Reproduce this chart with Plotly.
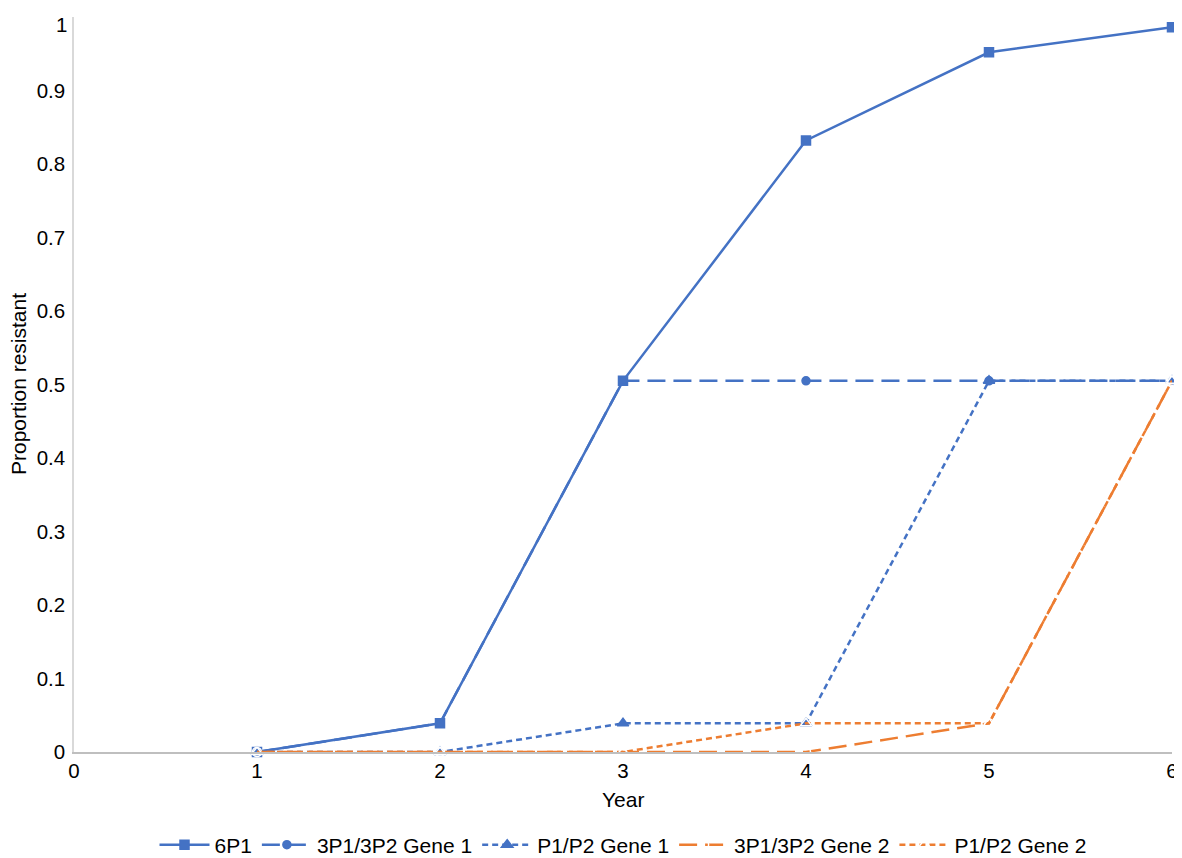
import plotly.graph_objects as go

years = [1, 2, 3, 4, 5, 6]
s_6p1 = [0, 0.039, 0.505, 0.832, 0.952, 0.986]
s_3p_g1 = [0, 0.039, 0.505, 0.505, 0.505, 0.505]
s_p_g1 = [0, 0, 0.039, 0.039, 0.505, 0.505]
s_3p_g2 = [0, 0, 0, 0, 0.039, 0.505]
s_p_g2 = [0, 0, 0, 0.039, 0.039, 0.505]

x_ticks = [0, 1, 2, 3, 4, 5, 6]
y_ticks = [0, 0.1, 0.2, 0.3, 0.4, 0.5, 0.6, 0.7, 0.8, 0.9]
y_labels = ["0", "0.1", "0.2", "0.3", "0.4", "0.5", "0.6", "0.7", "0.8", "0.9"]
y_top_label = "1"

BLUE = "#4472C4"
ORANGE = "#ED7D31"

series = [
    ("6P1", s_6p1, BLUE, "solid", "square", BLUE, 9),
    ("3P1/3P2 Gene 1", s_3p_g1, BLUE, "18px,8px", "circle", BLUE, 8),
    ("P1/P2 Gene 1", s_p_g1, BLUE, "6px,4px", "triangle-up", BLUE, 10),
    ("3P1/3P2 Gene 2", s_3p_g2, ORANGE, "18px,8px", "circle-open", ORANGE, 9),
    ("P1/P2 Gene 2", s_p_g2, ORANGE, "6px,4px", "triangle-up-open", ORANGE, 10),
]

FS = 21
TFS = 20.5

fig = go.Figure()
for name, ys, col, dash, sym, mcol, msize in series:
    fig.add_trace(go.Scatter(
        x=years, y=ys, name=name, mode="lines+markers", cliponaxis=False,
        line=dict(color=col, width=2.5, dash=dash),
        marker=dict(symbol=sym, size=msize, color=mcol if "open" not in sym else "white",
                    line=dict(color=mcol, width=1.5)),
    ))

# page body has an 8px margin, so the figure is shrunk and margins adjusted
fig.update_layout(
    width=1174, height=850,
    margin=dict(l=66, r=10, t=9, b=106, autoexpand=False),
    paper_bgcolor="white", plot_bgcolor="white",
    font=dict(family="Liberation Sans, Arial, sans-serif", size=FS, color="#000000"),
    showlegend=True,
    legend=dict(orientation="h", x=0.5, xanchor="center", y=-0.1265, yanchor="middle",
                font=dict(size=FS), traceorder="normal", itemwidth=50),
    xaxis=dict(range=[0, 6], tickvals=x_ticks, showgrid=False, automargin=False,
               showline=True, linecolor="#BFBFBF", linewidth=1.5, zeroline=False,
               ticks="", tickfont=dict(size=TFS), ticklabeloverflow="allow"),
    yaxis=dict(range=[0, 1], tickvals=y_ticks, ticktext=y_labels, automargin=False,
               showgrid=False, showline=True, linecolor="#D9D9D9", linewidth=1.5, zeroline=False,
               ticks="", tickfont=dict(size=TFS), ticklabeloverflow="allow",
               ticklabelstandoff=3),
    annotations=[
        dict(text=y_top_label, x=0, xref="paper", y=1, yref="y", xanchor="right",
             yanchor="middle", xshift=-5, yshift=-7, showarrow=False, font=dict(size=TFS)),
        dict(text="Year", x=0.5, xref="paper", y=-0.065, yref="paper", yanchor="middle",
             showarrow=False, font=dict(size=FS)),
        dict(text="Proportion resistant", x=-0.0505, xref="paper", y=0.5, yref="paper",
             textangle=-90, xanchor="center", yanchor="middle", showarrow=False, font=dict(size=FS)),
    ],
)

fig.write_html("out.html")
